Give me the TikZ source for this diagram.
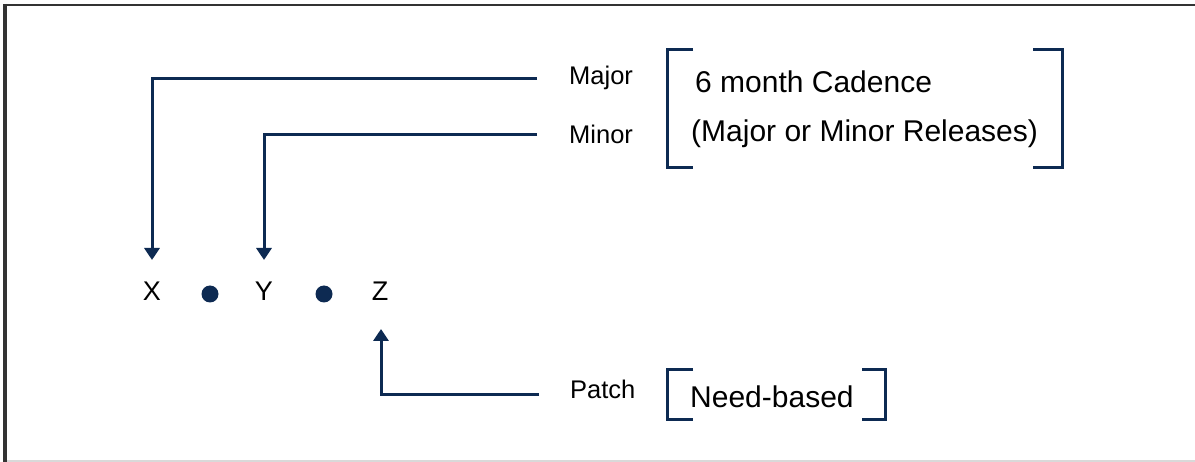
\documentclass[tikz,border=0pt]{standalone}
\usepackage{fontspec}
\setmainfont{Liberation Sans}
\usetikzlibrary{arrows.meta}
\definecolor{navy}{HTML}{0D2A52}
\definecolor{framedark}{HTML}{333333}
\definecolor{framelight}{HTML}{D9D9D9}
\tikzset{
  conn/.style={draw=navy, line width=3pt, line join=miter, -{Triangle[width=15pt,length=12pt]}},
  brk/.style={draw=navy, line width=3pt, line join=miter},
  lbl/.style={inner sep=0pt, anchor=base west, font=\fontsize{25.5}{30}\selectfont},
  maintxt/.style={inner sep=0pt, anchor=base west, font=\fontsize{30}{36}\selectfont},
  ver/.style={inner sep=0pt, anchor=base, font=\fontsize{27}{32}\selectfont},
  sep/.style={circle, fill=navy, inner sep=0pt, minimum size=17pt}
}
\begin{document}
\begin{tikzpicture}[x=1pt,y=-1pt]
\useasboundingbox (0,0) rectangle (1195,462);
\fill[white] (0,0) rectangle (1195,462);
% frame
\draw[framedark, line width=2.5pt] (3,5) -- (1195,5);
\draw[framedark, line width=3.5pt] (5,4) -- (5,462);
\draw[framelight, line width=2pt] (7,461) -- (1195,461);
% version letters and dots
\node[ver] (X) at (152,301) {X};
\node[sep] (d1) at (210,294) {};
\node[ver] (Y) at (264,301) {Y};
\node[sep] (d2) at (324,294) {};
\node[ver] (Z) at (380,301) {Z};
% labels
\node[lbl] (major) at (569,85) {Major};
\node[lbl] (minor) at (569,144) {Minor};
\node[lbl] (patch) at (570,399) {Patch};
% bracket texts
\node[maintxt] (cad1) at (695,93) {6 month Cadence};
\node[maintxt] (cad2) at (691,142) {(Major or Minor Releases)};
\node[maintxt] (need) at (690,407) {Need-based};
% connector coordinates
\coordinate (mjS) at (537,79);
\coordinate (mjT) at (152,260);
\coordinate (mnS) at (537,135);
\coordinate (mnT) at (264,260);
\coordinate (ptS) at (539,395);
\coordinate (ptT) at (381,329);
\draw[conn] (mjS) -| (mjT);
\draw[conn] (mnS) -| (mnT);
\draw[conn] (ptS) -| (ptT);
% brackets
\draw[brk] (693,50) -- (667,50) -- (667,168) -- (693,168);
\draw[brk] (1033,50) -- (1062,50) -- (1062,168) -- (1033,168);
\draw[brk] (693,370) -- (667,370) -- (667,420) -- (693,420);
\draw[brk] (862,370) -- (885,370) -- (885,420) -- (862,420);
\end{tikzpicture}
\end{document}
